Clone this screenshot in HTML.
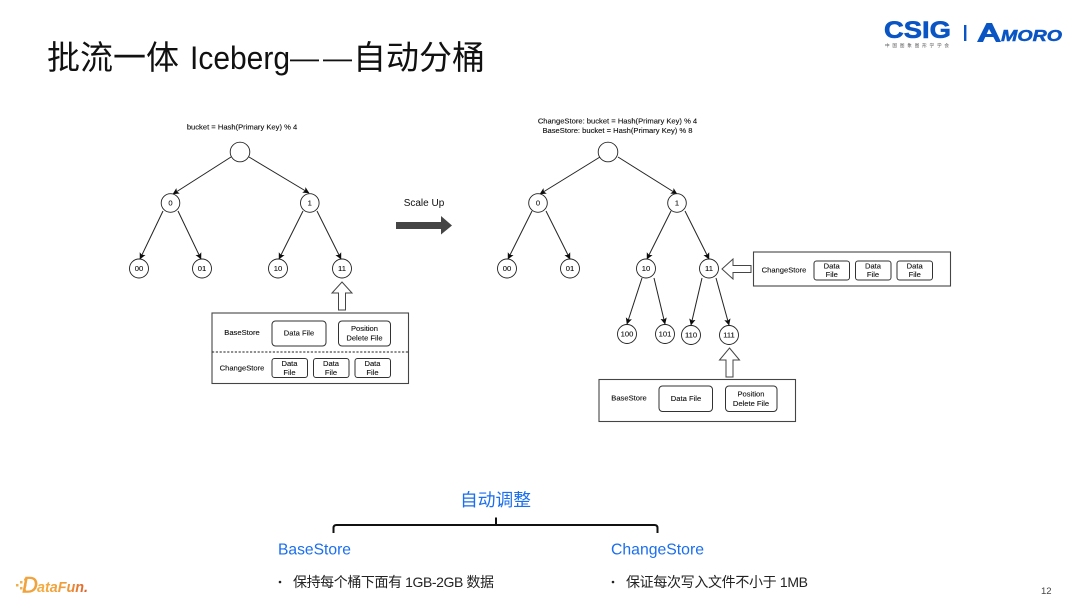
<!DOCTYPE html>
<html><head><meta charset="utf-8"><style>
html,body{margin:0;padding:0;background:#fff}
svg{display:block}
.d text{font-family:"Liberation Sans",sans-serif;font-size:7.6px;fill:#111;stroke:#111;stroke-width:.12;text-anchor:middle}
.cjk{font-family:"Liberation Sans","Noto Sans CJK SC",sans-serif}
.n{fill:#fff;stroke:#222;stroke-width:.9}
.e{stroke:#222;stroke-width:1;fill:none}
.b{fill:#fff;stroke:#444;stroke-width:1.1}
.r{fill:#fff;stroke:#333;stroke-width:1}
.ar{fill:#fff;stroke:#444;stroke-width:1}
</style></head><body>
<svg width="1080" height="608" viewBox="0 0 1080 608" xmlns="http://www.w3.org/2000/svg">
<defs>
<marker id="a" markerWidth="7" markerHeight="7" refX="6" refY="3.5" orient="auto" markerUnits="userSpaceOnUse"><path d="M0 0.3L6.5 3.5L0 6.7L1.4 3.5Z" fill="#111"/></marker>
<filter id="s" x="-5%" y="-5%" width="110%" height="110%"><feGaussianBlur stdDeviation="0.3"/></filter>
<linearGradient id="g" x1="0" x2="1" y1="0" y2="0"><stop offset="0" stop-color="#f5b041"/><stop offset=".6" stop-color="#ee9a3a"/><stop offset="1" stop-color="#dd5a2a"/></linearGradient>
</defs>

<g class="cjk" fill="#111" font-size="33">
<text x="47" y="69" textLength="132" lengthAdjust="spacingAndGlyphs">批流一体</text>
<text x="190" y="69" textLength="100" lengthAdjust="spacingAndGlyphs" font-size="32">Iceberg</text>
<rect x="290" y="59.5" width="29" height="1.8"/>
<rect x="323" y="59.5" width="29" height="1.8"/>
<text x="353" y="69" textLength="132" lengthAdjust="spacingAndGlyphs">自动分桶</text>
</g>

<!-- logos -->
<g font-family="Liberation Sans,sans-serif" font-weight="bold" fill="#0a55c4">
<text x="884" y="38" font-size="24" stroke="#0a55c4" stroke-width=".6" textLength="67" lengthAdjust="spacingAndGlyphs">CSIG</text>
<rect x="964" y="25" width="2.4" height="16"/>
<path d="M977 42L986.5 23H992L1001 42H996L989 29L983 42Z"/>
<rect x="984" y="34" width="12" height="3"/>
<text x="1001" y="41" font-size="16" stroke="#0a55c4" stroke-width=".5" font-style="italic" textLength="61" lengthAdjust="spacingAndGlyphs">MORO</text>
</g>
<text x="885" y="47" class="cjk" font-size="4.6" fill="#555" textLength="64">中国图象图形学学会</text>

<g filter="url(#s)">
<!-- Left tree -->
<g class="d">
<text x="242" y="129.5">bucket = Hash(Primary Key) % 4</text>
<path class="e" marker-end="url(#a)" d="M231 157L173 194"/>
<path class="e" marker-end="url(#a)" d="M249 157L309 193"/>
<path class="e" marker-end="url(#a)" d="M163 211L140 259"/>
<path class="e" marker-end="url(#a)" d="M178 211L201 259"/>
<path class="e" marker-end="url(#a)" d="M303 211L279 259"/>
<path class="e" marker-end="url(#a)" d="M317 211L341 259"/>
<circle class="n" cx="240" cy="152" r="9.8"/>
<circle class="n" cx="170.5" cy="203" r="9.3"/><text x="170.5" y="205.7">0</text>
<circle class="n" cx="309.8" cy="203" r="9.3"/><text x="309.8" y="205.7">1</text>
<circle class="n" cx="139" cy="268.5" r="9.5"/><text x="139" y="271.2">00</text>
<circle class="n" cx="202" cy="268.5" r="9.5"/><text x="202" y="271.2">01</text>
<circle class="n" cx="278" cy="268.5" r="9.5"/><text x="278" y="271.2">10</text>
<circle class="n" cx="342" cy="268.5" r="9.5"/><text x="342" y="271.2">11</text>
<path class="ar" d="M342 282L352 293H345.5V310H338.5V293H332Z"/>
<rect class="b" x="212" y="313" width="196.5" height="70.5"/>
<path d="M212 352H408" stroke="#222" stroke-width="1" stroke-dasharray="2.2 1.6"/>
<text x="242" y="335">BaseStore</text>
<rect class="r" x="272" y="321" width="54" height="25" rx="3.5"/><text x="299" y="335.5">Data File</text>
<rect class="r" x="338.5" y="321" width="52" height="25" rx="3.5"/><text x="364.5" y="331">Position</text><text x="364.5" y="340.5">Delete File</text>
<text x="242" y="370.5">ChangeStore</text>
<rect class="r" x="272" y="358.5" width="35.5" height="19" rx="2.5"/><text x="289.5" y="366">Data</text><text x="289.5" y="375">File</text>
<rect class="r" x="313.5" y="358.5" width="35.5" height="19" rx="2.5"/><text x="331" y="366">Data</text><text x="331" y="375">File</text>
<rect class="r" x="355" y="358.5" width="35.5" height="19" rx="2.5"/><text x="372.5" y="366">Data</text><text x="372.5" y="375">File</text>
</g>

<!-- Scale up -->
<text x="424" y="206" font-family="Liberation Sans,sans-serif" font-size="10" fill="#111" text-anchor="middle">Scale Up</text>
<path d="M396 222H441V216L452 225.5L441 234.5V229H396Z" fill="#454545"/>

<!-- Right tree -->
<g class="d">
<text x="617.5" y="123.5">ChangeStore: bucket = Hash(Primary Key) % 4</text>
<text x="617.5" y="133">BaseStore: bucket = Hash(Primary Key) % 8</text>
<path class="e" marker-end="url(#a)" d="M600 157L540 194"/>
<path class="e" marker-end="url(#a)" d="M618 157L677 194"/>
<path class="e" marker-end="url(#a)" d="M532 211L508 259"/>
<path class="e" marker-end="url(#a)" d="M546 211L570 259"/>
<path class="e" marker-end="url(#a)" d="M671 211L647 259"/>
<path class="e" marker-end="url(#a)" d="M685 211L709 259"/>
<path class="e" marker-end="url(#a)" d="M642 278L627 324"/>
<path class="e" marker-end="url(#a)" d="M654 278L665 324"/>
<path class="e" marker-end="url(#a)" d="M702 278L691 325"/>
<path class="e" marker-end="url(#a)" d="M716 278L729 325"/>
<circle class="n" cx="608" cy="152" r="9.8"/>
<circle class="n" cx="538" cy="203" r="9.3"/><text x="538" y="205.7">0</text>
<circle class="n" cx="677" cy="203" r="9.3"/><text x="677" y="205.7">1</text>
<circle class="n" cx="507" cy="268.5" r="9.5"/><text x="507" y="271.2">00</text>
<circle class="n" cx="570" cy="268.5" r="9.5"/><text x="570" y="271.2">01</text>
<circle class="n" cx="646" cy="268.5" r="9.5"/><text x="646" y="271.2">10</text>
<circle class="n" cx="709" cy="268.5" r="9.5"/><text x="709" y="271.2">11</text>
<circle class="n" cx="627" cy="334" r="9.5"/><text x="627" y="336.7">100</text>
<circle class="n" cx="665" cy="334" r="9.5"/><text x="665" y="336.7">101</text>
<circle class="n" cx="691" cy="335" r="9.5"/><text x="691" y="337.7">110</text>
<circle class="n" cx="729" cy="335" r="9.5"/><text x="729" y="337.7">111</text>
<path class="ar" d="M729.5 348L739.5 360H733V377H726V360H719.5Z"/>
<rect class="b" x="599" y="379.5" width="196.5" height="42"/>
<text x="629" y="400.5">BaseStore</text>
<rect class="r" x="659" y="386" width="53.5" height="25.5" rx="3.5"/><text x="686" y="401">Data File</text>
<rect class="r" x="725.5" y="386" width="51.5" height="25.5" rx="3.5"/><text x="751" y="396.5">Position</text><text x="751" y="406">Delete File</text>
<path class="ar" d="M722 269L733 259V265.5H751V272.5H733V279Z"/>
<rect class="b" x="753.5" y="252" width="197" height="34"/>
<text x="784" y="272.5">ChangeStore</text>
<rect class="r" x="814" y="261" width="35.5" height="19" rx="2.5"/><text x="831.7" y="268.5">Data</text><text x="831.7" y="277">File</text>
<rect class="r" x="855.5" y="261" width="35.5" height="19" rx="2.5"/><text x="873" y="268.5">Data</text><text x="873" y="277">File</text>
<rect class="r" x="897" y="261" width="35.5" height="19" rx="2.5"/><text x="914.7" y="268.5">Data</text><text x="914.7" y="277">File</text>
</g>
</g>

<!-- Bottom -->
<text x="460" y="506" class="cjk" font-size="17.5" fill="#1a6ef0" textLength="71" lengthAdjust="spacingAndGlyphs">自动调整</text>
<path d="M333.5 533V528Q333.5 525 336.5 525H654.5Q657.5 525 657.5 528V533M496 525V517.5" fill="none" stroke="#111" stroke-width="2"/>
<g class="cjk" font-size="16" fill="#1a6ef0">
<text x="278" y="554.5" textLength="73" lengthAdjust="spacingAndGlyphs">BaseStore</text>
<text x="611" y="554.5" textLength="93" lengthAdjust="spacingAndGlyphs">ChangeStore</text>
</g>
<g class="cjk" font-size="14" fill="#222">
<circle cx="280" cy="582" r="1.3" fill="#222"/>
<text x="293" y="587" textLength="201" lengthAdjust="spacing">保持每个桶下面有 1GB-2GB 数据</text>
<circle cx="613" cy="582" r="1.3" fill="#222"/>
<text x="626" y="587" textLength="182" lengthAdjust="spacing">保证每次写入文件不小于 1MB</text>
</g>
<text x="1041" y="594" font-family="Liberation Sans,sans-serif" font-size="9.5" fill="#444">12</text>

<!-- DataFun -->
<g fill="#f3b04a"><rect x="16" y="584" width="2.5" height="2.5"/><rect x="20" y="581" width="2.5" height="2.5"/><rect x="20" y="587" width="2.5" height="2.5"/><rect x="24" y="584" width="2.5" height="2.5"/><rect x="24" y="578.5" width="2" height="2"/><rect x="24" y="589.5" width="2" height="2"/></g>
<text x="22" y="592.5" font-family="Liberation Sans,sans-serif" font-style="italic" font-size="22" fill="#f0a23c" stroke="#f0a23c" stroke-width=".5">D</text>
<text x="37" y="592" font-family="Liberation Sans,sans-serif" font-weight="bold" font-style="italic" font-size="14.5" fill="url(#g)" textLength="51" lengthAdjust="spacingAndGlyphs">ataFun.</text>
</svg>
</body></html>
